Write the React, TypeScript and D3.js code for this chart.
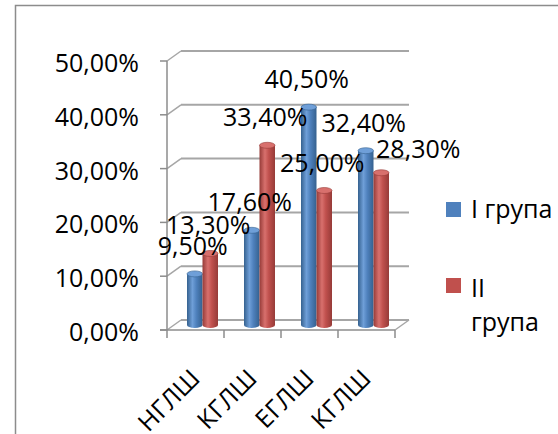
import React from "react";
import * as d3 from "d3";

const categories = ["НГЛШ", "КГЛШ", "ЕГЛШ", "КГЛШ"];
const seriesNames = ["I група", "II група"];
const seriesI = [9.5, 17.6, 40.5, 32.4];
const seriesII = [13.3, 33.4, 25.0, 28.3];
const yTickValues = [0, 10, 20, 30, 40, 50];

const colors = ["#4F81BD", "#C0504D"];
const dark = ["#35618f", "#963b38"];
const light = ["#6f9fd8", "#d8706d"];

const W = 558;
const H = 434;
const FONT = "'Open Sans', 'Noto Sans', sans-serif";
const FS = 25;

const fmt = (v: number) => d3.format(".2f")(v).replace(".", ",") + "%";

export default function App() {
  const y = d3.scaleLinear().domain([0, 50]).range([330, 61]);
  const x = d3
    .scaleBand<number>()
    .domain(categories.map((_, i) => i))
    .range([167, 395])
    .padding(0);
  const inner = d3.scaleBand<number>().domain([0, 1]).range([13, 44]).padding(0);
  const depth = { dx: 14, dy: -10 };
  const mid = { dx: 7, dy: -5 };
  const series = [seriesI, seriesII];
  const bw = inner.bandwidth();
  const ry = 3;

  const bars: any[] = [];
  series.forEach((vals, s) => {
    vals.forEach((v, i) => {
      const x0 = (x(i) as number) + mid.dx + (inner(s) as number);
      const yb = y(0) + mid.dy;
      const yt = y(v) + mid.dy;
      bars.push({ s, i, v, x0, yb, yt });
    });
  });

  const x0 = x.range()[0];
  const x1 = x.range()[1];

  return (
    <svg
      width={W}
      height={H}
      style={{ position: "absolute", left: 0, top: 0, background: "#fff" }}
      fontFamily={FONT}
    >
      <defs>
        {colors.map((c, s) => (
          <linearGradient key={s} id={`cyl${s}`} x1="0" x2="1" y1="0" y2="0">
            <stop offset="0%" stopColor={dark[s]} />
            <stop offset="35%" stopColor={light[s]} />
            <stop offset="60%" stopColor={c} />
            <stop offset="100%" stopColor={dark[s]} />
          </linearGradient>
        ))}
      </defs>
      <rect x={15.5} y={5.5} width={W} height={H} fill="#fff" stroke="#8c8c8c" strokeWidth={1.5} />

      {/* back wall gridlines and side diagonals */}
      {yTickValues.map((t) => (
        <g key={t}>
          <line
            x1={x0 + depth.dx}
            x2={x1 + depth.dx}
            y1={y(t) + depth.dy}
            y2={y(t) + depth.dy}
            stroke="#a6a6a6"
            strokeWidth={2}
          />
          <line
            x1={x0}
            x2={x0 + depth.dx}
            y1={y(t)}
            y2={y(t) + depth.dy}
            stroke="#a6a6a6"
            strokeWidth={1.5}
          />
          <line x1={x0 - 7} x2={x0} y1={y(t)} y2={y(t)} stroke="#8c8c8c" strokeWidth={1.5} />
          <text
            x={139}
            y={y(t) + 11}
            textAnchor="end"
            fontSize={FS}
            fill="#000"
          >
            {fmt(t)}
          </text>
        </g>
      ))}
      {/* floor */}
      <line x1={x1} x2={x1 + depth.dx} y1={y(0)} y2={y(0) + depth.dy} stroke="#a6a6a6" strokeWidth={1.5} />
      <line x1={x0} x2={x0} y1={y(50)} y2={y(0)} stroke="#8c8c8c" strokeWidth={1.5} />
      <line x1={x0 - 7} x2={x1} y1={y(0)} y2={y(0)} stroke="#8c8c8c" strokeWidth={1.5} />
      {categories.map((_, i) => (
        <line
          key={i}
          x1={x(i) as number}
          x2={x(i) as number}
          y1={y(0)}
          y2={y(0) + 8}
          stroke="#8c8c8c"
          strokeWidth={1.5}
        />
      ))}
      <line x1={x1} x2={x1} y1={y(0)} y2={y(0) + 8} stroke="#8c8c8c" strokeWidth={1.5} />

      {/* bars (cylinders) */}
      {bars
        .slice()
        .sort((a, b) => a.i - b.i || a.s - b.s)
        .map((b) => {
          const cx = b.x0 + bw / 2;
          const rx = bw / 2;
          return (
            <g key={`${b.s}-${b.i}`}>
              <path
                d={`M${b.x0},${b.yt} L${b.x0},${b.yb} A${rx},${ry} 0 0 0 ${b.x0 + bw},${b.yb} L${b.x0 + bw},${b.yt} Z`}
                fill={`url(#cyl${b.s})`}
              />
              <ellipse cx={cx} cy={b.yt} rx={rx} ry={ry} fill={light[b.s]} stroke={dark[b.s]} strokeWidth={0.6} />
            </g>
          );
        })}

      {/* data labels */}
      {bars.map((b) => {
        const last = b.s === 1 && b.i === categories.length - 1;
        const cx = b.x0 + bw / 2 - 2 + (last ? 39 : 0);
        const cy = b.yt - 27.5 + (last ? 4.5 : 0);
        return (
          <text
            key={`l${b.s}-${b.i}`}
            x={cx}
            y={cy + 8.5}
            textAnchor="middle"
            fontSize={FS}
            fill="#000"
          >
            {fmt(b.v)}
          </text>
        );
      })}

      {/* category labels */}
      {categories.map((c, i) => {
        const ax = (x(i) as number) + x.bandwidth() / 2 + 6;
        const ay = 380;
        return (
          <text
            key={`c${i}`}
            transform={`translate(${ax},${ay}) rotate(-45)`}
            textAnchor="end"
            fontSize={FS}
            fill="#000"
          >
            {c}
          </text>
        );
      })}

      {/* legend */}
      <rect x={446} y={202} width={15} height={15} fill={colors[0]} />
      <text x={471} y={218} fontSize={FS} fill="#000">
        {seriesNames[0]}
      </text>
      <rect x={446} y={278} width={15} height={15} fill={colors[1]} />
      <text x={471} y={297} fontSize={FS} fill="#000">
        <tspan x={471}>{seriesNames[1].split(" ")[0]}</tspan>
        <tspan x={471} dy={34}>
          {seriesNames[1].split(" ")[1]}
        </tspan>
      </text>
    </svg>
  );
}
